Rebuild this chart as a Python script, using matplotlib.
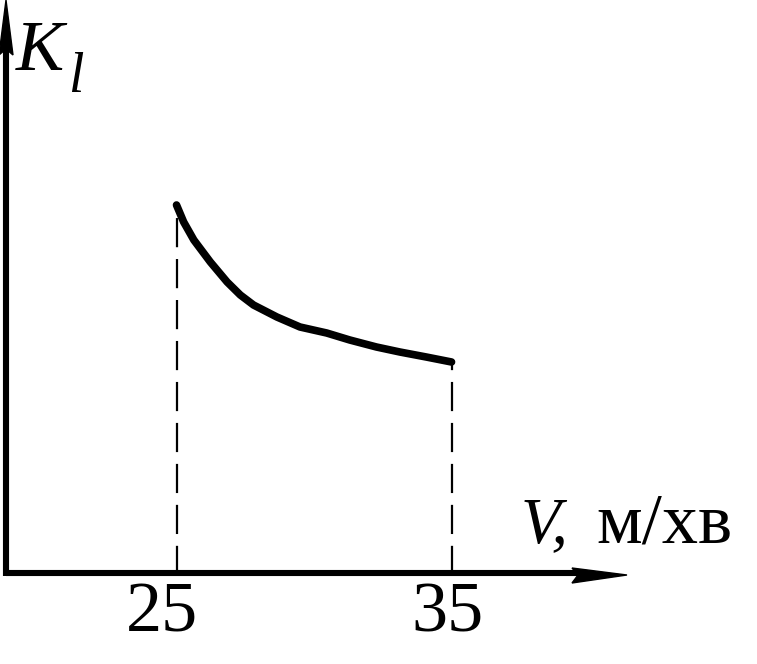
import matplotlib
matplotlib.use('Agg')
import matplotlib.pyplot as plt
from matplotlib.patches import Polygon
from matplotlib.transforms import ScaledTranslation

# curve
speed = [25.0, 25.26, 25.63, 26.23, 26.84, 27.32, 27.8, 28.65, 29.49,
         30.46, 31.3, 32.27, 33.12, 34.08, 35.0]
k_l = [3.70, 3.53, 3.35, 3.13, 2.93, 2.80, 2.70, 2.58, 2.48,
       2.42, 2.35, 2.28, 2.23, 2.18, 2.13]
tick_vals = [25, 35]
tick_labels = ['25', '35']

plt.rcParams['font.family'] = ['Liberation Serif', 'DejaVu Serif']
plt.rcParams['lines.scale_dashes'] = False

W, H = 757, 664
fig = plt.figure(figsize=(W / 100, H / 100), dpi=100)


def px(x, y):
    # pixel position (from top-left) to figure fraction
    return (x / W, 1 - y / H)


x0, y0 = 6, 573
x1, y1 = 627, 0
ax = fig.add_axes([x0 / W, (H - y0) / H, (x1 - x0) / W, (y0 - y1) / H])
ax.set_xlim(18.80, 41.38)
ax.set_ylim(0.02, 5.75)
for s in ax.spines.values():
    s.set_visible(False)

# axis lines with narrow arrowheads
fig.add_artist(plt.Line2D([px(x0, y0)[0], px(580, y0)[0]],
                          [px(x0, y0)[1], px(580, y0)[1]],
                          lw=4.4, color='black', solid_capstyle='butt'))
fig.add_artist(plt.Line2D([px(x0, y0 + 3)[0], px(x0, 45)[0]],
                          [px(x0, y0 + 3)[1], px(x0, 45)[1]],
                          lw=4.4, color='black', solid_capstyle='butt'))
fig.add_artist(Polygon([px(627, 575), px(572, 568), px(578, 575),
                        px(572, 583)], closed=True, color='black',
                       transform=fig.transFigure))
fig.add_artist(Polygon([px(6, 0), px(-1, 55), px(6, 49), px(13, 55)],
                       closed=True, color='black', transform=fig.transFigure))

ax.plot(speed, k_l, color='black', lw=5.5, solid_capstyle='round',
        solid_joinstyle='round', clip_on=False)
ax.vlines([speed[0], speed[-1]], 0, [k_l[0], k_l[-1]], colors='black',
          lw=1.6, linestyles=(0, (21, 8.5)))

ax.set_xticks(tick_vals)
ax.set_xticklabels(tick_labels, fontsize=52)
ax.tick_params(axis='x', length=0, pad=6)
ax.set_yticks([])
for lab, dx in zip(ax.get_xticklabels(), [-15, -4]):
    lab.set_transform(lab.get_transform() +
                      ScaledTranslation(dx / 100, 0, fig.dpi_scale_trans))

fig.text(*px(16, 70), 'K', fontsize=52, style='italic', ha='left',
         va='baseline')
fig.text(*px(68, 92), 'l', fontsize=40, style='italic', ha='left',
         va='baseline')
fig.text(*px(521, 542), 'V,', fontsize=47, style='italic', ha='left',
         va='baseline')
fig.text(*px(596, 542), 'м/хв', fontsize=52, ha='left', va='baseline')

fig.savefig('out.png', dpi=100)
